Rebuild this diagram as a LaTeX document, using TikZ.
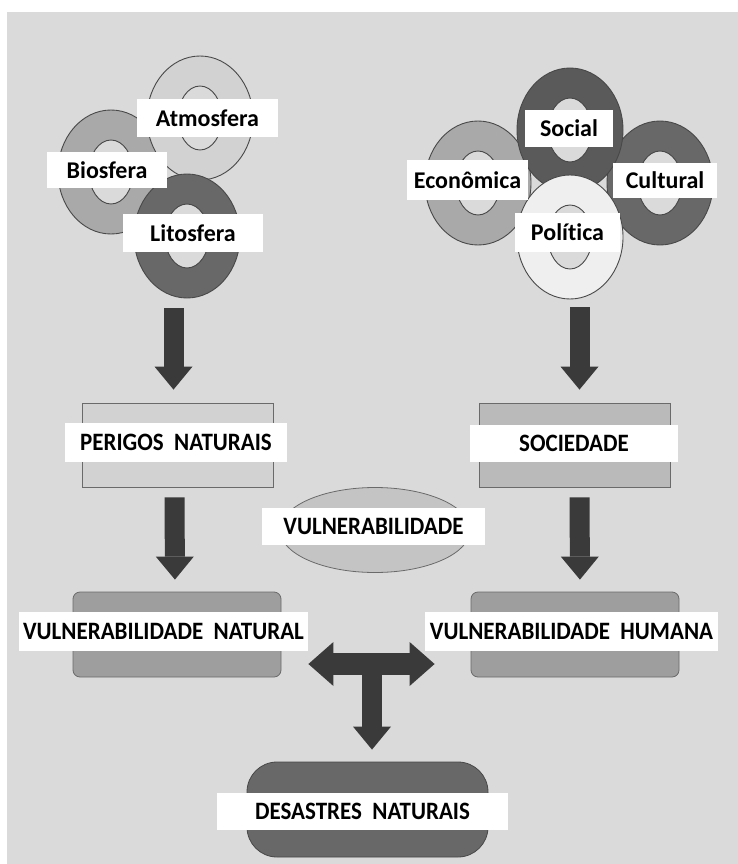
\documentclass[tikz,border=0pt]{standalone}
\usepackage{fontspec}
\setmainfont{Carlito}[Ligatures=NoCommon]
\newfontfamily\capsfont{Carlito}[FakeStretch=0.92, Ligatures=NoCommon]
\usetikzlibrary{shapes.geometric, arrows.meta, positioning, calc}

\definecolor{bggray}{HTML}{DADADA}
\definecolor{edgegray}{HTML}{6A6A6A}
\definecolor{ringline}{HTML}{484848}
\definecolor{arrowgray}{HTML}{3A3A3A}
\definecolor{ringA}{HTML}{D2D2D2}
\definecolor{ringB}{HTML}{A9A9A9}
\definecolor{ringL}{HTML}{686868}
\definecolor{ringS}{HTML}{5A5A5A}
\definecolor{ringP}{HTML}{EFEFEF}

\begin{document}
\begin{tikzpicture}[x=1pt, y=-1pt,
    tagbox/.style={fill=white, inner sep=0pt, font=\fontsize{24}{26}\selectfont\bfseries, text=black},
    capsbox/.style={tagbox, font=\capsfont\fontsize{25}{27}\selectfont\bfseries},
    panel/.style={draw=edgegray, line width=0.8pt, inner sep=0pt},
    blockarrow/.style={line width=20pt, draw=arrowgray, -{Triangle[width=38pt, length=23pt, line width=0pt]}}]

% Page and background
\path[use as bounding box, fill=white] (0,0) rectangle (738,864);
\fill[bggray] (7,12) rectangle (738,864);

% Rings (natural side, then human side)
\foreach \name/\x/\y/\col in {bio/111/172/ringB, atmo/200/118/ringA, lito/187/236/ringL,
                               econ/478/183/ringB, cult/660/183/ringL, soci/570/130/ringS, poli/570/237/ringP} {
    \path[draw=ringline, line width=0.9pt, fill=\col, even odd rule]
        (\x,\y) ellipse (53 and 62) (\x,\y) ellipse (22 and 32);
    \node[ellipse, minimum width=106pt, minimum height=124pt, inner sep=0pt] (\name) at (\x,\y) {};
}

% Ring labels
\node[tagbox, minimum width=141pt, minimum height=38pt] (atmoTxt) at (207.5,118) {Atmosfera};
\node[tagbox, minimum width=120pt, minimum height=36pt] (bioTxt) at (107,170) {Biosfera};
\node[tagbox, minimum width=140pt, minimum height=38pt] (litoTxt) at (193,233) {Litosfera};
\node[tagbox, minimum width=88pt, minimum height=37pt] (sociTxt) at (569,128.5) {Social};
\node[tagbox, minimum width=121pt, minimum height=40pt] (econTxt) at (467.5,180) {Econômica};
\node[tagbox, minimum width=104pt, minimum height=35pt] (cultTxt) at (665,180.5) {Cultural};
\node[tagbox, minimum width=105pt, minimum height=39pt] (poliTxt) at (567.5,232.5) {Política};

% Middle boxes
\node[panel, fill=ringA, minimum width=191pt, minimum height=84pt] (perigos) at (177.5,445) {};
\node[panel, fill=black!27, minimum width=191pt, minimum height=84pt] (sociedade) at (574.5,445) {};
\node[panel, ellipse, fill=black!23, minimum width=190pt, minimum height=85pt] (vuln) at (375,530) {};
\node[panel, fill=black!38, rounded corners=7pt, minimum width=208pt, minimum height=85pt] (vnat) at (177,634.5) {};
\node[panel, fill=black!38, rounded corners=7pt, minimum width=208pt, minimum height=85pt] (vhum) at (575,634.5) {};
\node[panel, draw=ringline, fill=ringL, rounded corners=30pt, minimum width=241pt, minimum height=95pt] (desastres) at (367.5,809.5) {};

\node[capsbox, minimum width=222pt, minimum height=39pt] (perigosTxt) at (176,442.5) {PERIGOS~ NATURAIS};
\node[capsbox, minimum width=208pt, minimum height=37pt] (sociedadeTxt) at (574,443.5) {SOCIEDADE};
\node[capsbox, minimum width=223pt, minimum height=37pt] (vulnTxt) at (373.5,526.5) {VULNERABILIDADE};
\node[capsbox, minimum width=289pt, minimum height=39pt] (vnatTxt) at (163.5,631.5) {VULNERABILIDADE~ NATURAL};
\node[capsbox, minimum width=293pt, minimum height=39pt] (vhumTxt) at (571.5,631.5) {VULNERABILIDADE~ HUMANA};
\node[capsbox, minimum width=291pt, minimum height=37pt] (desastresTxt) at (362.5,811.5) {DESASTRES~ NATURAIS};

% Downward arrows
\draw[blockarrow, shorten <=10pt, shorten >=13pt] ($(perigos.north |- lito.south)+(-4,0)$) -- ($(perigos.north)+(-4,0)$);
\draw[blockarrow, shorten <=8pt, shorten >=13pt] ($(sociedade.north |- poli.south)+(5,0)$) -- ($(sociedade.north)+(5,0)$);
\draw[blockarrow, shorten <=10pt, shorten >=12pt] ($(perigos.south)+(-3,0)$) -- ($(vnat.north)+(-2,0)$);
\draw[blockarrow, shorten <=10pt, shorten >=12pt] ($(sociedade.south)+(5,0)$) -- ($(vhum.north)+(5,0)$);

% Two-way arrow and the drop to the disasters
\coordinate (tee) at (372,664);
\draw[blockarrow, line width=22pt, {Triangle[width=44pt, length=25pt, line width=0pt]}-{Triangle[width=44pt, length=25pt, line width=0pt]},
      shorten <=27pt, shorten >=36pt] (vnat.east |- tee) -- (vhum.west |- tee);
\draw[blockarrow, -{Triangle[width=38pt, length=23pt, line width=0pt]}, shorten >=12pt] ($(tee)+(0,-11)$) -- (tee |- desastres.north);
\end{tikzpicture}
\end{document}
